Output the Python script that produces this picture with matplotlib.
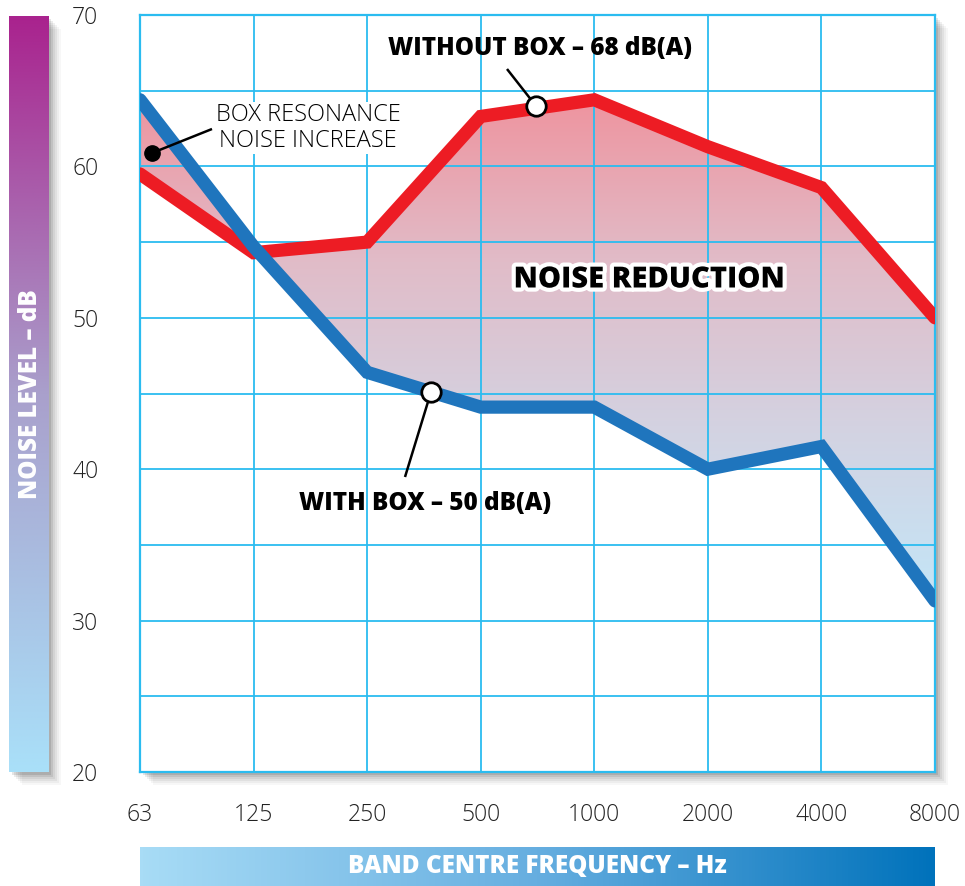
import numpy as np
import matplotlib
matplotlib.use("Agg")
import matplotlib.pyplot as plt
import matplotlib.patheffects as pe
from matplotlib.colors import LinearSegmentedColormap
from matplotlib.patches import Rectangle

# datos
frecuencias = ["63", "125", "250", "500", "1000", "2000", "4000", "8000"]
sin_caja = [59.5, 54.3, 55.0, 63.3, 64.4, 61.3, 58.6, 50.0]
con_caja = [64.4, 54.7, 46.4, 44.1, 44.1, 40.0, 41.5, 31.3]
y_ticks = [20, 30, 40, 50, 60, 70]

ROJO = "#ed1c24"
AZUL = "#1f75bd"
CIAN = "#2bbcf0"
FUENTE = "Open Sans"

W, H = 965, 886
fig = plt.figure(figsize=(W / 100, H / 100), dpi=100)
fig.patch.set_facecolor("white")

x0, x1, ytop, ybot = 140, 935, 15, 772
ax = fig.add_axes([x0 / W, (H - ybot) / H, (x1 - x0) / W, (ybot - ytop) / H])
ax.set_zorder(2)


def sombra(px0, py0, px1, py1):
    # sombra difusa a la derecha / abajo
    for i, a in enumerate([0.10, 0.08, 0.06, 0.05, 0.04, 0.03]):
        off = 3 + i * 2
        r = Rectangle(((px0 + off) / W, (H - py1 - off) / H),
                      (px1 - px0) / W, (py1 - py0) / H,
                      transform=fig.transFigure, facecolor="black",
                      alpha=a, edgecolor="none", zorder=0)
        fig.add_artist(r)


sombra(x0, ytop, x1, ybot)
sombra(9, 16, 48, 772)

# barra vertical con degradado
ax_l = fig.add_axes([9 / W, (H - 772) / H, 39 / W, (772 - 16) / H])
ax_l.set_zorder(1)
cm_l = LinearSegmentedColormap.from_list("l", ["#a9e0f9", "#a9a0cc", "#a9238e"])
ax_l.imshow(np.linspace(0, 1, 256).reshape(-1, 1), cmap=cm_l, aspect="auto",
            origin="lower", extent=[0, 1, 0, 1])
ax_l.axis("off")
ax_l.text(0.55, 0.5, "NOISE LEVEL – dB", rotation=90, ha="center", va="center",
          color="white", fontsize=17.5, fontweight="heavy", family=FUENTE,
          transform=ax_l.transAxes)

# barra horizontal con degradado
ax_b = fig.add_axes([x0 / W, 0, (x1 - x0) / W, 39 / H])
cm_b = LinearSegmentedColormap.from_list("b", ["#a8dcf6", "#66aee0", "#0072bb"])
ax_b.imshow(np.linspace(0, 1, 256).reshape(1, -1), cmap=cm_b, aspect="auto",
            extent=[0, 1, 0, 1])
ax_b.axis("off")
ax_b.text(0.5, 0.5, "BAND CENTRE FREQUENCY – Hz", ha="center", va="center",
          color="white", fontsize=17.5, fontweight="heavy", family=FUENTE,
          transform=ax_b.transAxes)

# grafico principal
x = np.arange(len(frecuencias))
ax.set_xlim(0, len(frecuencias) - 1)
ax.set_ylim(20, 70)

# relleno con degradado entre las curvas
poly = ax.fill_between(x, sin_caja, con_caja, facecolor="none", edgecolor="none")
cm_f = LinearSegmentedColormap.from_list("f", ["#c3e6f8", "#d3d3e2", "#e1bcc8", "#ef929d"])
grad = ax.imshow(np.linspace(0, 1, 256).reshape(-1, 1), cmap=cm_f, aspect="auto",
                 origin="lower", extent=[0, 7, 31, 65], zorder=1)
grad.set_clip_path(poly.get_paths()[0], transform=ax.transData)

for v in np.arange(20, 71, 5):
    ax.axhline(v, color=CIAN, lw=1.3, zorder=1.5)
for xi in x:
    ax.axvline(xi, color=CIAN, lw=1.3, zorder=1.5)
for s in ax.spines.values():
    s.set_color(CIAN)
    s.set_linewidth(1.6)

ax.plot(x, sin_caja, color=ROJO, lw=9.5, solid_joinstyle="miter",
        solid_capstyle="round", zorder=3)
ax.plot(x, con_caja, color=AZUL, lw=9.5, solid_joinstyle="miter",
        solid_capstyle="round", zorder=4)

ax.set_xticks(x)
ax.set_xticklabels(frecuencias)
ax.set_yticks(y_ticks)
ax.tick_params(length=0, labelsize=16.5, colors="#222222")
ax.tick_params(axis="x", pad=22)
ax.tick_params(axis="y", pad=30)
for lab in ax.get_xticklabels() + ax.get_yticklabels():
    lab.set_family(FUENTE)
    lab.set_fontweight("light")


# anotaciones (posiciones en pixeles de la imagen -> datos)
def a_datos(px, py):
    return ((px - x0) / (x1 - x0) * 7, 70 - (py - ytop) / (ybot - ytop) * 50)


def guia(p_a, p_b):
    (xa, ya), (xb, yb) = a_datos(*p_a), a_datos(*p_b)
    ax.plot([xa, xb], [ya, yb], color="black", lw=1.8, zorder=6,
            solid_capstyle="butt")


guia((507, 69), (536, 106))
guia((405, 477), (431, 392))
guia((212, 129), (152, 153))

ax.text(*a_datos(540, 48), "WITHOUT BOX – 68 dB(A)", ha="center", va="center",
        fontsize=17.5, fontweight="heavy", family=FUENTE, zorder=6)
ax.text(*a_datos(425, 503), "WITH BOX – 50 dB(A)", ha="center", va="center",
        fontsize=17.5, fontweight="heavy", family=FUENTE, zorder=6)
ax.text(*a_datos(308, 128), "BOX RESONANCE\nNOISE INCREASE", ha="center",
        va="center", fontsize=17, fontweight="light", family=FUENTE,
        linespacing=1.1, zorder=5.5,
        bbox=dict(facecolor="white", edgecolor="none", pad=1))

ax.plot(*a_datos(536, 106), marker="o", ms=14, mfc="white", mec="black", mew=2, zorder=7)
ax.plot(*a_datos(431, 392), marker="o", ms=14, mfc="white", mec="black", mew=2, zorder=7)
ax.plot(*a_datos(152, 153), marker="o", ms=11, mfc="black", mec="black", zorder=7)

ax.text(*a_datos(649, 280), "NOISE REDUCTION", ha="center", va="center",
        fontsize=21, fontweight="heavy", family=FUENTE, zorder=6,
        path_effects=[pe.withStroke(linewidth=6, foreground="white")])

fig.savefig("out.png", dpi=100)
